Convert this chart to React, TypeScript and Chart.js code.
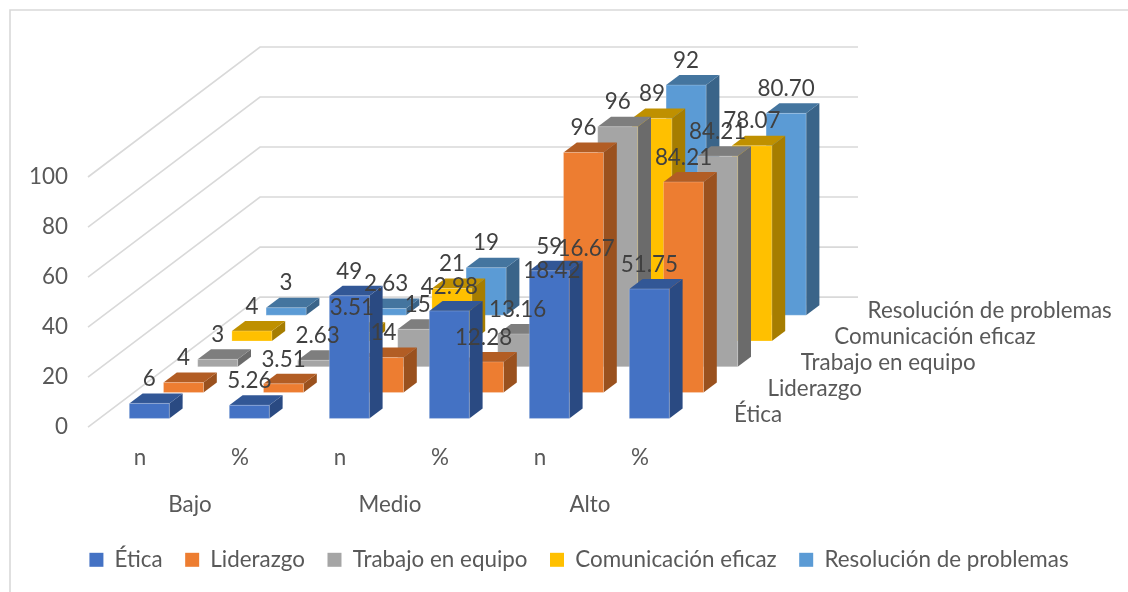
import React, { useEffect, useRef } from "react";
import { Chart, BarController, registerables } from "chart.js";

const categories = ["n", "%", "n", "%", "n", "%"];
const groups = ["Bajo", "Medio", "Alto"];
const seriesNames = ["Ética", "Liderazgo", "Trabajo en equipo", "Comunicación eficaz", "Resolución de problemas"];
const etica = [6, 5.26, 49, 42.98, 59, 51.75];
const liderazgo = [4, 3.51, 14, 12.28, 96, 84.21];
const trabajo = [3, 2.63, 15, 13.16, 96, 84.21];
const comunicacion = [4, 3.51, 21, 18.42, 89, 78.07];
const resolucion = [3, 2.63, 19, 16.67, 92, 80.7];
const allSeries = [etica, liderazgo, trabajo, comunicacion, resolucion];

const faceColors = ["#4472C4", "#ED7D31", "#A5A5A5", "#FFC000", "#5B9BD5"];
const sideColors = ["#2A4A82", "#9A511E", "#6B6B6B", "#A67D00", "#3A6489"];
const topColors = ["#325796", "#B25D24", "#7E7E7E", "#BF9000", "#44759F"];

const FONT = "Lato, sans-serif";
const FS = 22.4;
const STEP_X = 34.2;
const STEP_Y = 25.8;
const FRONT_X = 9.3;
const FRONT_Y = 8.7;
const DEPTH_X = 13.3;
const DEPTH_Y = 10;
const shiftX = (i: number) => FRONT_X + STEP_X * i;
const shiftY = (i: number) => FRONT_Y + STEP_Y * i;

function poly(ctx: CanvasRenderingContext2D, pts: number[][], fill: string) {
  ctx.beginPath();
  pts.forEach((p, k) => (k ? ctx.lineTo(p[0], p[1]) : ctx.moveTo(p[0], p[1])));
  ctx.closePath();
  ctx.fillStyle = fill;
  ctx.fill();
}

class Bar3DController extends BarController {
  static id = "bar3d";
  static defaults = BarController.defaults;
  static overrides = BarController.overrides;
  draw() {
    const ctx = this.chart.ctx;
    const i = this.index;
    const meta = this.getMeta();
    ctx.save();
    meta.data.forEach((el: any) => {
      const l = el.x - el.width / 2 + shiftX(i);
      const r = l + el.width;
      const t = el.y - shiftY(i);
      const b = el.base - shiftY(i);
      poly(ctx, [[r, t], [r + DEPTH_X, t - DEPTH_Y], [r + DEPTH_X, b - DEPTH_Y], [r, b]], sideColors[i]);
      poly(ctx, [[l, t], [l + DEPTH_X, t - DEPTH_Y], [r + DEPTH_X, t - DEPTH_Y], [r, t]], topColors[i]);
      poly(ctx, [[l, t], [r, t], [r, b], [l, b]], faceColors[i]);
      ctx.strokeStyle = "rgba(255,255,255,0.22)";
      ctx.lineWidth = 1;
      ctx.strokeRect(l, t, el.width, b - t);
    });
    ctx.restore();
  }
}

Chart.register(...registerables, Bar3DController);

const wallPlugin = {
  id: "walls",
  beforeDatasetsDraw(chart: any) {
    const { ctx, scales } = chart;
    const y = scales.y;
    ctx.save();
    ctx.strokeStyle = "#D9D9D9";
    ctx.lineWidth = 1.6;
    // chart border (its right and bottom sides lie outside the picture)
    ctx.beginPath();
    ctx.moveTo(10, 600);
    ctx.lineTo(10, 10);
    ctx.lineTo(1140, 10);
    ctx.stroke();
    y.ticks.forEach((t: any) => {
      const py = y.getPixelForValue(t.value);
      ctx.beginPath();
      ctx.moveTo(88, py);
      ctx.lineTo(260, py - 130);
      ctx.lineTo(858, py - 130);
      ctx.stroke();
    });
    ctx.restore();
  },
};

const textPlugin = {
  id: "texts",
  afterDatasetsDraw(chart: any) {
    const { ctx, scales } = chart;
    ctx.save();
    ctx.textAlign = "center";
    ctx.textBaseline = "middle";
    ctx.font = `${FS}px ${FONT}`;
    // value labels
    ctx.fillStyle = "#404040";
    for (let i = allSeries.length - 1; i >= 0; i--) {
      const meta = chart.getDatasetMeta(i);
      meta.data.forEach((el: any, k: number) => {
        const v = allSeries[i][k];
        const txt = k % 2 ? v.toFixed(2) : String(v);
        ctx.fillText(txt, el.x + shiftX(i), el.y - shiftY(i) - 24.5);
      });
    }
    // group labels under the categories
    ctx.fillStyle = "#595959";
    groups.forEach((g, k) => {
      const mid = (scales.x.getPixelForTick(k * 2) + scales.x.getPixelForTick(k * 2 + 1)) / 2;
      ctx.fillText(g, mid, 505);
    });
    // depth axis labels
    ctx.textAlign = "left";
    seriesNames.forEach((n, i) => {
      ctx.fillText(n, scales.x.right + 44 + 33.4 * i, 415 - 26 * i);
    });
    ctx.restore();
  },
};

export default function App() {
  const ref = useRef<HTMLCanvasElement>(null);
  useEffect(() => {
    const chart = new Chart(ref.current!, {
      type: "bar3d" as any,
      data: {
        labels: categories,
        datasets: allSeries.map((data, i) => ({
          label: seriesNames[i],
          data,
          backgroundColor: faceColors[i],
          borderWidth: 0,
          grouped: false,
          barPercentage: 0.4,
          categoryPercentage: 1,
          clip: false as any,
        })),
      },
      options: {
        responsive: false,
        animation: false,
        layout: { padding: { left: 30, top: 177, right: 0, bottom: 11 } },
        plugins: {
          tooltip: { enabled: false },
          legend: {
            position: "bottom",
            labels: {
              boxWidth: 14,
              boxHeight: 14,
              padding: 22.5,
              color: "#595959",
              font: { family: FONT, size: FS },
            },
          },
        },
        scales: {
          x: {
            type: "category",
            offset: true,
            grid: { display: false, drawTicks: false },
            border: { display: false },
            afterFit: (s: any) => { s.height = 99; },
            ticks: { color: "#595959", font: { family: FONT, size: FS }, padding: 17, maxRotation: 0 },
          },
          y: {
            min: 0,
            max: 100,
            grid: { display: false, drawTicks: false },
            border: { display: false },
            afterFit: (s: any) => { s.width = 60; },
            ticks: { stepSize: 20, color: "#595959", font: { family: FONT, size: FS }, padding: 22 },
          },
          spacer: {
            type: "linear",
            position: "right",
            display: true,
            grid: { display: false },
            border: { display: false },
            ticks: { display: false },
            afterFit: (s: any) => { s.width = 438; },
          },
        },
      },
      plugins: [wallPlugin, textPlugin],
    } as any);
    return () => chart.destroy();
  }, []);
  return (
    <div style={{ position: "absolute", left: 0, top: 0, width: 1128, height: 592, background: "#fff" }}>
      <canvas ref={ref} width={1128} height={592} style={{ display: "block" }} />
    </div>
  );
}
